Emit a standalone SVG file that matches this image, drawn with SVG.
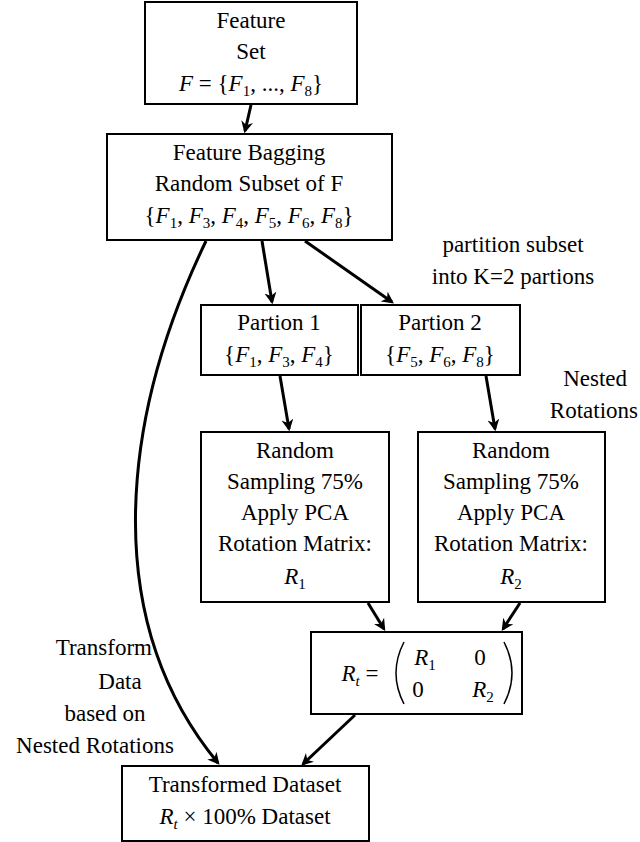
<svg xmlns="http://www.w3.org/2000/svg" width="640" height="842" viewBox="0 0 640 842">
<style>
text{font-family:"Liberation Serif","Times New Roman",Times,serif;font-size:23px;fill:#000;text-anchor:middle}
.i{font-style:italic}
rect{fill:#fff;stroke:#000;stroke-width:2}
.c path{fill:none;stroke:#000;stroke-width:3;marker-end:url(#a)}
.p{fill:none;stroke:#000;stroke-width:1.5}
</style>
<defs><marker id="a" viewBox="0 0 10 10" refX="8" refY="5" markerWidth="4" markerHeight="4" orient="auto"><path d="M0,0 L10,5 L0,10 L3,5z" fill="#000"/></marker></defs>
<rect x="0" y="0" width="640" height="842" style="stroke:none;fill:#fff"/>
<g class="c">
<path d="M251,105 L245,131"/>
<path d="M262,241 L272,302"/>
<path d="M305,241 L392,302"/>
<path d="M280,376 L289,429"/>
<path d="M486,376 L495,429"/>
<path d="M368,603 L384,629"/>
<path d="M520,603 L503,629"/>
<path d="M206,241 C120,420 100,620 218,763"/>
<path d="M355,715 L303,764"/>
</g>
<g id="n1"><rect x="145" y="2" width="212" height="102"/><text x="251" y="28">Feature</text><text x="251" y="59">Set</text><text x="251" y="91"><tspan class="i">F</tspan> = {<tspan class="i">F</tspan><tspan font-size="15" dy="5">1</tspan><tspan dy="-5">, ..., </tspan><tspan class="i">F</tspan><tspan font-size="15" dy="5">8</tspan><tspan dy="-5">}</tspan></text></g>
<g id="n2"><rect x="107" y="134" width="285" height="106"/><text x="249" y="160">Feature Bagging</text><text x="249" y="191">Random Subset of F</text><text x="249" y="223">{<tspan class="i">F</tspan><tspan font-size="15" dy="5">1</tspan><tspan dy="-5">, </tspan><tspan class="i">F</tspan><tspan font-size="15" dy="5">3</tspan><tspan dy="-5">, </tspan><tspan class="i">F</tspan><tspan font-size="15" dy="5">4</tspan><tspan dy="-5">, </tspan><tspan class="i">F</tspan><tspan font-size="15" dy="5">5</tspan><tspan dy="-5">, </tspan><tspan class="i">F</tspan><tspan font-size="15" dy="5">6</tspan><tspan dy="-5">, </tspan><tspan class="i">F</tspan><tspan font-size="15" dy="5">8</tspan><tspan dy="-5">}</tspan></text></g>
<g id="n3"><rect x="201" y="305" width="157" height="70"/><text x="279" y="330">Partion 1</text><text x="279" y="362">{<tspan class="i">F</tspan><tspan font-size="15" dy="5">1</tspan><tspan dy="-5">, </tspan><tspan class="i">F</tspan><tspan font-size="15" dy="5">3</tspan><tspan dy="-5">, </tspan><tspan class="i">F</tspan><tspan font-size="15" dy="5">4</tspan><tspan dy="-5">}</tspan></text></g>
<g id="n4"><rect x="361" y="305" width="159" height="70"/><text x="440" y="330">Partion 2</text><text x="440" y="362">{<tspan class="i">F</tspan><tspan font-size="15" dy="5">5</tspan><tspan dy="-5">, </tspan><tspan class="i">F</tspan><tspan font-size="15" dy="5">6</tspan><tspan dy="-5">, </tspan><tspan class="i">F</tspan><tspan font-size="15" dy="5">8</tspan><tspan dy="-5">}</tspan></text></g>
<g id="n5"><rect x="201" y="432" width="188" height="170"/><text x="295" y="458">Random</text><text x="295" y="489">Sampling 75%</text><text x="295" y="520">Apply PCA</text><text x="295" y="551">Rotation Matrix:</text><text x="295" y="584"><tspan class="i">R</tspan><tspan font-size="15" dy="5">1</tspan></text></g>
<g id="n6"><rect x="418" y="432" width="187" height="170"/><text x="511" y="458">Random</text><text x="511" y="489">Sampling 75%</text><text x="511" y="520">Apply PCA</text><text x="511" y="551">Rotation Matrix:</text><text x="511" y="584"><tspan class="i">R</tspan><tspan font-size="15" dy="5">2</tspan></text></g>
<g id="n7"><rect x="311" y="632" width="211" height="82"/>
<text x="360" y="681"><tspan class="i">R</tspan><tspan font-size="15" dy="5" class="i">t</tspan><tspan dy="-5"> =</tspan></text>
<path class="p" d="M404,642 Q388,673 404,704"/><path class="p" d="M504,642 Q520,673 504,704"/>
<text x="425" y="665"><tspan class="i">R</tspan><tspan font-size="15" dy="5">1</tspan></text><text x="480" y="665">0</text>
<text x="418" y="697">0</text><text x="483" y="697"><tspan class="i">R</tspan><tspan font-size="15" dy="5">2</tspan></text></g>
<g id="n8"><rect x="122" y="766" width="247" height="75"/><text x="245" y="792">Transformed Dataset</text><text x="245" y="824"><tspan class="i">R</tspan><tspan font-size="15" dy="5" class="i">t</tspan><tspan dy="-5"> × 100% Dataset</tspan></text></g>
<g id="labels">
<text x="513" y="252">partition subset</text><text x="513" y="284">into K=2 partions</text>
<text x="627" y="386" style="text-anchor:end">Nested</text><text x="638" y="418" style="text-anchor:end">Rotations</text>
<text x="152" y="655" style="text-anchor:end">Transform</text><text x="120" y="689">Data</text><text x="105" y="721">based on</text><text x="95" y="753">Nested Rotations</text>
</g>
</svg>
